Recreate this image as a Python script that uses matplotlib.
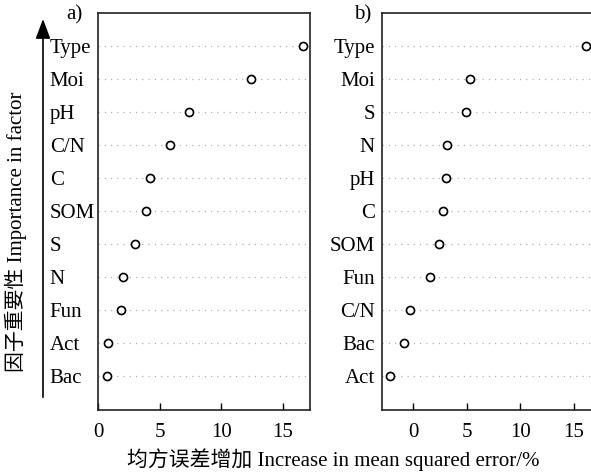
import matplotlib
matplotlib.use('Agg')
import matplotlib.pyplot as plt

plt.rcParams['font.family'] = ['Liberation Serif', 'Noto Sans CJK SC']
plt.rcParams['font.size'] = 15

# panel a (top to bottom)
labels_a = ['Type', 'Moi', 'pH', 'C/N', 'C', 'SOM', 'S', 'N', 'Fun', 'Act', 'Bac']
values_a = [16.66, 12.46, 7.38, 5.81, 4.25, 3.92, 3.03, 2.06, 1.84, 0.81, 0.71]

# panel b (top to bottom)
labels_b = ['Type', 'Moi', 'S', 'N', 'pH', 'C', 'SOM', 'Fun', 'C/N', 'Bac', 'Act']
values_b = [16.1, 5.29, 4.92, 3.18, 3.02, 2.74, 2.40, 1.56, -0.28, -0.84, -2.18]

xticks = [0, 5, 10, 15]

W, H = 591, 473
fig = plt.figure(figsize=(W / 100, H / 100), dpi=100)

ax_a = fig.add_axes([97.7 / W, 1 - 409.5 / H, (310 - 97.7) / W, (409.5 - 13) / H])
ax_b = fig.add_axes([381.7 / W, 1 - 409.5 / H, (593.7 - 381.7) / W, (409.5 - 13) / H])


def dotchart(ax, labels, values, xlim, label_ha, pad):
    n = len(labels)
    ypos = list(range(n, 0, -1))
    for y in ypos:
        ax.axhline(y, color='#b0b0b0', lw=0.9, linestyle=(0, (1, 4)), zorder=1)
    ax.plot(values, ypos, 'o', mfc='white', mec='black', ms=5.8, mew=1.2,
            linestyle='none', zorder=3)
    ax.set_ylim(0, n + 1)
    ax.set_xlim(*xlim)
    ax.set_yticks(ypos)
    ax.set_yticklabels(labels, ha=label_ha)
    ax.set_xticks(xticks)
    ax.tick_params(axis='y', length=0, pad=pad)
    ax.tick_params(axis='x', direction='in', length=5, width=1, pad=10)
    for s in ax.spines.values():
        s.set_linewidth(1.2)
        s.set_color('#222222')


dotchart(ax_a, labels_a, values_a, (-0.03, 17.22), 'left', 34.5)
dotchart(ax_b, labels_b, values_b, (-2.95, 16.83), 'right', 5)

fig.text(74 / W, 1 - 15 / H, 'a)', ha='center', va='center')
fig.text(363 / W, 1 - 15 / H, 'b)', ha='center', va='center')

fig.text(333 / W, 1 - 460 / H, '均方误差增加 Increase in mean squared error/%',
         ha='center', va='center')
fig.text(16 / W, 1 - 232 / H, '因子重要性 Importance in factor',
         ha='center', va='center', rotation=90)

fig.add_artist(plt.Line2D([43 / W, 43 / W], [1 - 397 / H, 1 - 28 / H],
                          color='black', lw=1.2))
plt.annotate('', xy=(43 / W, 1 - 19 / H), xytext=(43 / W, 1 - 30 / H),
             xycoords='figure fraction',
             arrowprops=dict(arrowstyle='-|>,head_length=0.8,head_width=0.3',
                             color='black', lw=1.2, shrinkA=0, shrinkB=0))

fig.savefig('out.png', dpi=100)
